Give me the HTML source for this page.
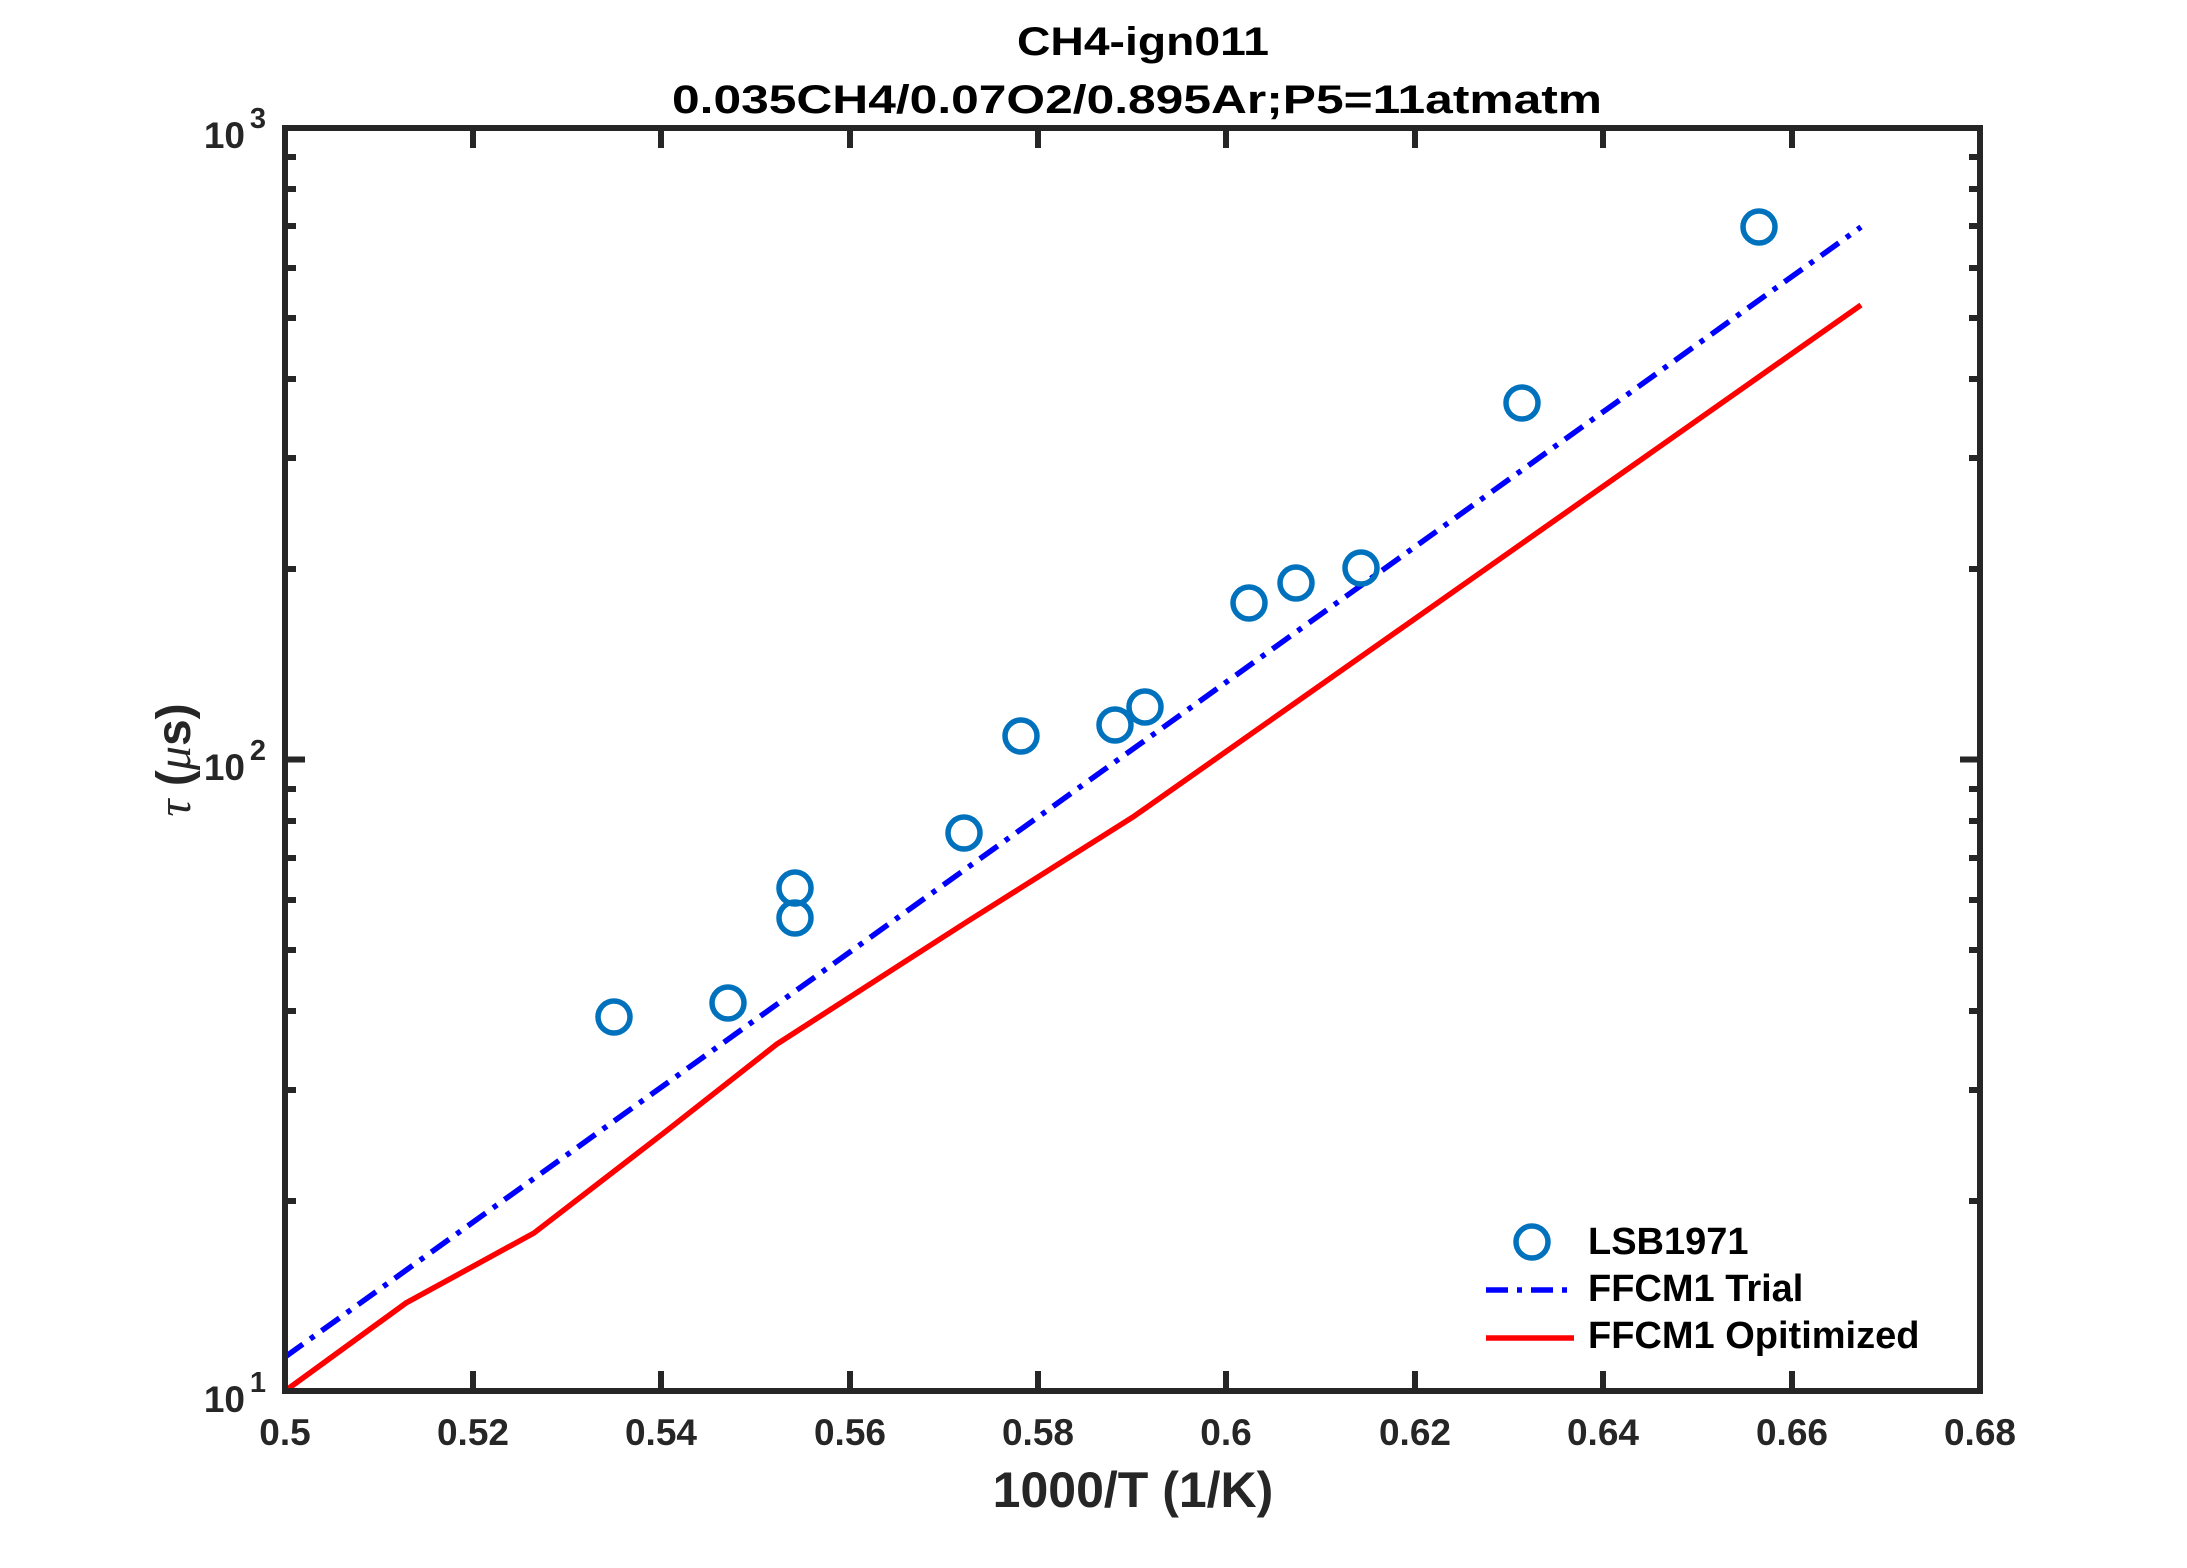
<!DOCTYPE html>
<html><head><meta charset="utf-8"><style>body{margin:0;background:#fff}</style></head><body>
<svg width="2187" height="1563" xmlns="http://www.w3.org/2000/svg" font-family="Liberation Sans, sans-serif" font-weight="bold">
<rect width="2187" height="1563" fill="#fff"/>
<g stroke="#262626" stroke-width="6">
<path d="M473,1391v-20M661,1391v-20M850,1391v-20M1038,1391v-20M1226,1391v-20M1415,1391v-20M1603,1391v-20M1792,1391v-20
M473,128v20M661,128v20M850,128v20M1038,128v20M1226,128v20M1415,128v20M1603,128v20M1792,128v20"/>
<path d="M285,759.5h20M1980,759.5h-20"/>
<path d="M285,1201h11M285,1090h11M285,1011h11M285,950h11M285,900h11M285,858h11M285,821h11M285,789h11
M285,569h11M285,458h11M285,379h11M285,318h11M285,268h11M285,226h11M285,189h11M285,157h11
M1980,1201h-11M1980,1090h-11M1980,1011h-11M1980,950h-11M1980,900h-11M1980,858h-11M1980,821h-11M1980,789h-11
M1980,569h-11M1980,458h-11M1980,379h-11M1980,318h-11M1980,268h-11M1980,226h-11M1980,189h-11M1980,157h-11"/>
</g>
<polyline fill="none" stroke="#ff0000" stroke-width="5.5" points="285,1391 406,1303 534,1233 665,1132 777,1044 965,923 1133,817 1861,305"/>
<line x1="285" y1="1357" x2="1861" y2="227" stroke="#0000ff" stroke-width="5.5" stroke-dasharray="22,9,5,9"/>
<g fill="none" stroke="#0072BD" stroke-width="5.5">
<circle cx="614" cy="1017" r="16"/><circle cx="728" cy="1003" r="16"/><circle cx="795" cy="888" r="16"/><circle cx="795" cy="918" r="16"/>
<circle cx="964" cy="833" r="16"/><circle cx="1021" cy="736" r="16"/><circle cx="1115" cy="725" r="16"/><circle cx="1145" cy="707" r="16"/>
<circle cx="1249" cy="603" r="16"/><circle cx="1296" cy="583" r="16"/><circle cx="1361" cy="568" r="16"/><circle cx="1522" cy="403" r="16"/>
<circle cx="1759" cy="227" r="16"/>
<circle cx="1532" cy="1242" r="16"/>
</g>
<line x1="1486" y1="1290" x2="1574" y2="1290" stroke="#0000ff" stroke-width="5.5" stroke-dasharray="22,9,5,9"/>
<line x1="1486" y1="1338" x2="1574" y2="1338" stroke="#ff0000" stroke-width="5.5"/>
<g font-size="38" fill="#000">
<text x="1588" y="1254">LSB1971</text><text x="1588" y="1301">FFCM1 Trial</text><text x="1588" y="1348">FFCM1 Opitimized</text>
</g>
<rect x="285" y="128" width="1695" height="1263" fill="none" stroke="#262626" stroke-width="6"/>
<g font-size="37" fill="#262626" text-anchor="middle">
<text x="285" y="1445">0.5</text><text x="473" y="1445">0.52</text><text x="661" y="1445">0.54</text><text x="850" y="1445">0.56</text>
<text x="1038" y="1445">0.58</text><text x="1226" y="1445">0.6</text><text x="1415" y="1445">0.62</text><text x="1603" y="1445">0.64</text>
<text x="1792" y="1445">0.66</text><text x="1980" y="1445">0.68</text>
</g>
<g fill="#262626" text-anchor="end">
<text x="245" y="148" font-size="37">10</text><text x="266" y="128" font-size="29">3</text>
<text x="245" y="780" font-size="37">10</text><text x="266" y="760" font-size="29">2</text>
<text x="245" y="1412" font-size="37">10</text><text x="266" y="1392" font-size="29">1</text>
</g>
<text x="1133" y="1507" font-size="50" fill="#262626" text-anchor="middle">1000/T (1/K)</text>
<text transform="translate(190,760) rotate(-90)" font-size="48" fill="#262626" text-anchor="middle"><tspan font-family="Liberation Serif, serif" font-style="italic" font-weight="normal">τ</tspan> (<tspan font-family="Liberation Serif, serif" font-style="italic" font-weight="normal">μ</tspan>s)</text>
<g font-size="40" fill="#000">
<text x="1017" y="55" textLength="252" lengthAdjust="spacingAndGlyphs">CH4-ign011</text>
<text x="672" y="113" textLength="930" lengthAdjust="spacingAndGlyphs">0.035CH4/0.07O2/0.895Ar;P5=11atmatm</text>
</g>
</svg>
</body></html>
